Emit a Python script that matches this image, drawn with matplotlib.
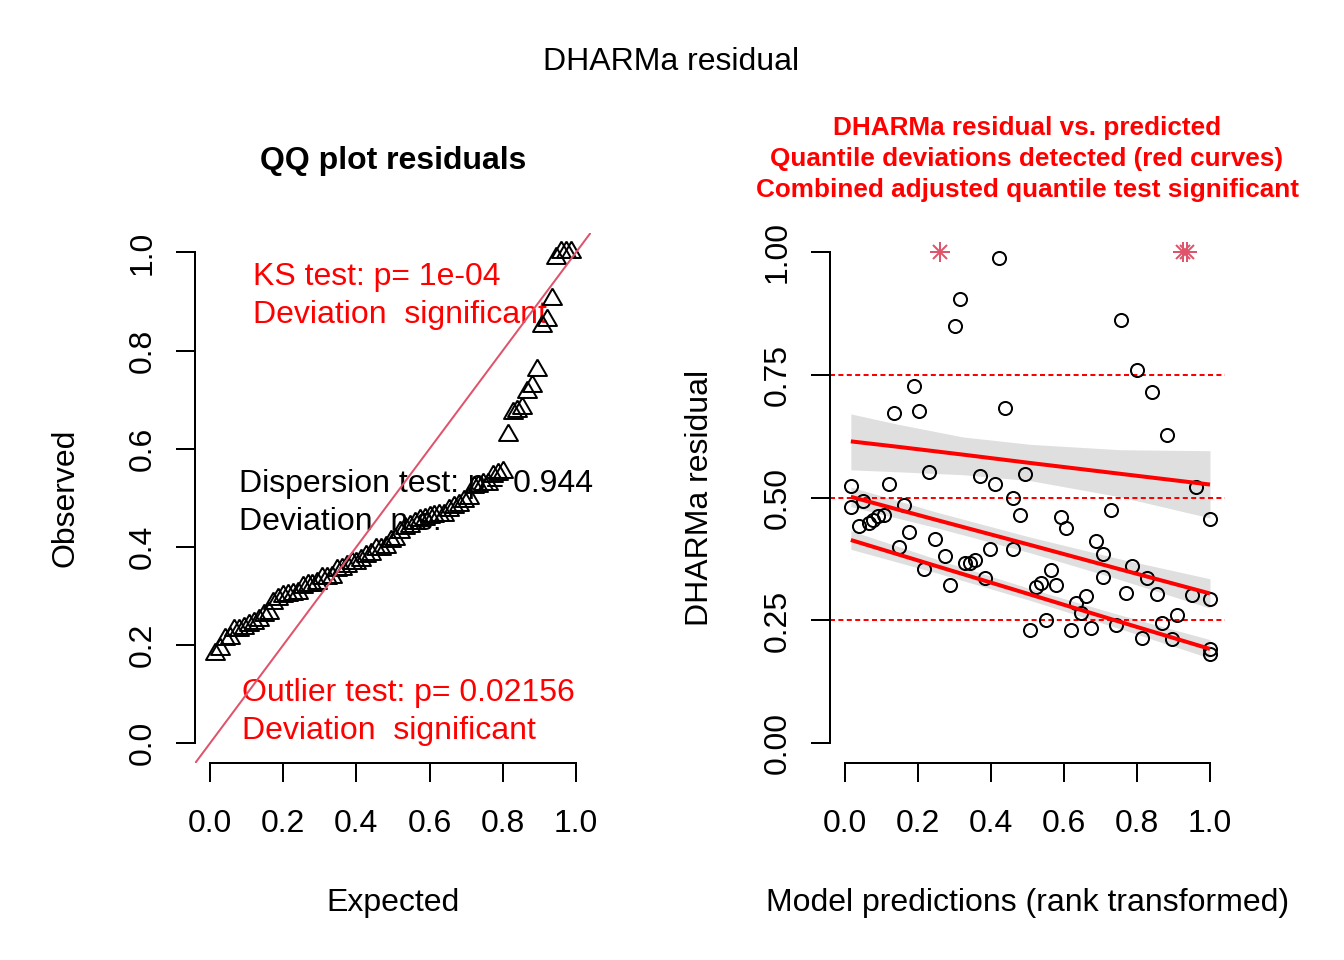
import numpy as np
import matplotlib
matplotlib.use("Agg")
import matplotlib.pyplot as plt

plt.rcParams['font.family'] = ['Liberation Sans', 'DejaVu Sans']

# ---------------- data ----------------
pred_rank = [0.016, 0.016, 0.037, 0.050, 0.066, 0.078, 0.091, 0.108, 0.120, 0.133,
             0.147, 0.161, 0.175, 0.188, 0.202, 0.216, 0.229, 0.247, 0.260, 0.273,
             0.287, 0.300, 0.314, 0.328, 0.342, 0.357, 0.369, 0.383, 0.396, 0.410,
             0.423, 0.437, 0.459, 0.459, 0.479, 0.492, 0.506, 0.523, 0.536, 0.551,
             0.564, 0.578, 0.591, 0.605, 0.618, 0.632, 0.646, 0.659, 0.673, 0.687,
             0.708, 0.708, 0.728, 0.742, 0.755, 0.769, 0.785, 0.799, 0.813, 0.827,
             0.840, 0.854, 0.868, 0.881, 0.895, 0.909, 0.925, 0.938, 0.950, 0.963,
             1.000, 1.000, 1.000, 1.000]
residual = [0.524, 0.482, 0.443, 0.494, 0.448, 0.455, 0.462, 0.465, 0.528, 0.672,
            0.399, 0.486, 0.431, 0.727, 0.676, 0.355, 0.552, 0.416, 1.000, 0.382,
            0.323, 0.851, 0.906, 0.368, 0.368, 0.373, 0.544, 0.336, 0.395, 0.528,
            0.988, 0.684, 0.499, 0.395, 0.464, 0.548, 0.231, 0.319, 0.327, 0.252,
            0.352, 0.323, 0.460, 0.439, 0.231, 0.285, 0.266, 0.299, 0.235, 0.412,
            0.386, 0.339, 0.476, 0.240, 0.863, 0.307, 0.361, 0.760, 0.215, 0.336,
            0.715, 0.303, 0.244, 0.627, 0.212, 0.261, 1.000, 1.000, 0.302, 0.523,
            0.456, 0.294, 0.191, 0.182]

# quantile regression fits (0.25, 0.5, 0.75) with confidence bands
q75_x = [0.016, 0.144, 0.323, 0.507, 0.753, 1.000]
q75_fit = [0.615, 0.604, 0.588, 0.571, 0.549, 0.527]
q75_upper = [0.671, 0.650, 0.624, 0.609, 0.598, 0.596]
q75_lower = [0.557, 0.553, 0.547, 0.535, 0.502, 0.459]

q50_x = [0.016, 0.250, 0.507, 0.750, 1.000]
q50_fit = [0.502, 0.455, 0.404, 0.355, 0.305]
q50_upper = [0.522, 0.471, 0.420, 0.376, 0.335]
q50_lower = [0.482, 0.439, 0.388, 0.334, 0.275]

q25_x = [0.016, 0.250, 0.507, 0.750, 1.000]
q25_fit = [0.414, 0.361, 0.303, 0.248, 0.192]
q25_upper = [0.433, 0.375, 0.315, 0.262, 0.211]
q25_lower = [0.395, 0.347, 0.291, 0.234, 0.173]

ref_quantiles = [0.25, 0.5, 0.75]

qq_ticks = [0.0, 0.2, 0.4, 0.6, 0.8, 1.0]
qq_ticklabels = ["0.0", "0.2", "0.4", "0.6", "0.8", "1.0"]
res_yticks = [0.0, 0.25, 0.5, 0.75, 1.0]
res_yticklabels = ["0.00", "0.25", "0.50", "0.75", "1.00"]

ks_text = ["KS test: p= 1e-04", "Deviation  significant"]
disp_text = ["Dispersion test: p= 0.944", "Deviation  n.s."]
out_text = ["Outlier test: p= 0.02156", "Deviation  significant"]
right_title = ["DHARMa residual vs. predicted",
               "Quantile deviations detected (red curves)",
               "Combined adjusted quantile test significant"]

# ---------------- figure ----------------
W, H = 1344, 960
fig = plt.figure(figsize=(7, 5), dpi=192)
fig.patch.set_facecolor('white')


def fx(p):
    return p / W


def fy(p):
    return 1 - p / H


top_px, bot_px = 232.8, 762.8
axL = fig.add_axes([fx(195.4), fy(bot_px), (590.6 - 195.4) / W, (bot_px - top_px) / H])
axR = fig.add_axes([fx(830.4), fy(bot_px), (1224.6 - 830.4) / W, (bot_px - top_px) / H])

R2 = '#DF536B'
RED = '#FF0000'


def style(ax, xt, xtl, yt, ytl):
    ax.set_xlim(-0.04, 1.04)
    ax.set_ylim(-0.04, 1.04)
    for s in ['top', 'right']:
        ax.spines[s].set_visible(False)
    for s in ['left', 'bottom']:
        ax.spines[s].set_linewidth(0.75)
        ax.spines[s].set_bounds(0, 1)
    ax.set_xticks(xt)
    ax.set_xticklabels(xtl)
    ax.set_yticks(yt)
    ax.set_yticklabels(ytl)
    ax.tick_params(axis='both', direction='out', length=7.0, width=0.75,
                   labelsize=12, colors='black')
    ax.tick_params(axis='x', pad=10.4)
    ax.tick_params(axis='y', pad=7.0)
    for lab in ax.get_yticklabels():
        lab.set_rotation(90)
        lab.set_va('center')
        lab.set_ha('right')


style(axL, qq_ticks, qq_ticklabels, qq_ticks, qq_ticklabels)
style(axR, qq_ticks, qq_ticklabels, res_yticks, res_yticklabels)

# ---- QQ plot ----
n = len(residual)
observed = np.sort(np.array(residual))
expected = np.arange(1, n + 1) / (n + 1)
tri = [(0, 1), (-0.8660254, -0.5), (0.8660254, -0.5), (0, 1)]
axL.plot(expected, observed, linestyle='none', marker=tri, markersize=8.2,
         markerfacecolor='none', markeredgecolor='black', markeredgewidth=0.75,
         zorder=3)
axL.axline((0, 0), (1, 1), color=R2, lw=0.75, zorder=4)

# ---- residual vs predicted ----
px_ = np.array(pred_rank)
ry = np.array(residual)
is_out = (ry >= 1.0) | (ry <= 0.0)

for bx, bf, bu, bl in [(q25_x, q25_fit, q25_upper, q25_lower),
                       (q50_x, q50_fit, q50_upper, q50_lower),
                       (q75_x, q75_fit, q75_upper, q75_lower)]:
    axR.fill_between(bx, bl, bu, color='black', alpha=0x20 / 255, linewidth=0, zorder=1)

for q in ref_quantiles:
    axR.axhline(q, color=RED, lw=0.75, dashes=(2.5, 1.7), zorder=2)

axR.plot(px_[~is_out], ry[~is_out], linestyle='none', marker='o', markersize=4.9,
         markerfacecolor='none', markeredgecolor='black', markeredgewidth=0.75, zorder=3)
axR.plot(px_[is_out], ry[is_out], linestyle='none', marker='+', markersize=7.8,
         markeredgecolor=R2, markeredgewidth=0.75, zorder=3)
axR.plot(px_[is_out], ry[is_out], linestyle='none', marker='x', markersize=5.5,
         markeredgecolor=R2, markeredgewidth=0.75, zorder=3)

for bx, bf in [(q25_x, q25_fit), (q50_x, q50_fit), (q75_x, q75_fit)]:
    axR.plot(bx, bf, color=RED, lw=1.5, solid_capstyle='butt', zorder=4)

# ---------------- texts ----------------
def ftext(x, y, s, ax=None, **kw):
    target = ax if ax is not None else fig
    kw.setdefault('transform', fig.transFigure)
    return target.text(fx(x), fy(y), s, **kw)


ftext(671, 70.5, "DHARMa residual", fontsize=12, ha='center', va='baseline')
ftext(393, 168.5, "QQ plot residuals", fontsize=12, fontweight='bold',
      ha='center', va='baseline')
for i, s in enumerate(right_title):
    ftext(1027.0, 135.0 + 31 * i, s, fontsize=9.8, fontweight='bold', color=RED,
          ha='center', va='baseline')

ftext(393, 911.5, "Expected", fontsize=12, ha='center', va='baseline')
ftext(1027.5, 911.5, "Model predictions (rank transformed)", fontsize=12,
      ha='center', va='baseline')
ftext(73.5, 498, "Observed", fontsize=12, ha='center', va='baseline',
      rotation=90, rotation_mode='anchor')
ftext(708.5, 498, "DHARMa residual", fontsize=12, ha='center', va='baseline',
      rotation=90, rotation_mode='anchor')

for i, s in enumerate(ks_text):
    ftext(252.7, 285.0 + 38.3 * i, s, ax=axL, fontsize=12, color=RED,
          ha='left', va='baseline', zorder=1, clip_on=False)
for i, s in enumerate(disp_text):
    ftext(239.0, 492.3 + 37.7 * i, s, ax=axL, fontsize=12, color='black',
          ha='left', va='baseline', zorder=1, clip_on=False)
for i, s in enumerate(out_text):
    ftext(241.5, 700.5 + 38.3 * i, s, ax=axL, fontsize=12, color=RED,
          ha='left', va='baseline', zorder=1, clip_on=False)

fig.savefig("out.png", dpi=192, facecolor='white')
